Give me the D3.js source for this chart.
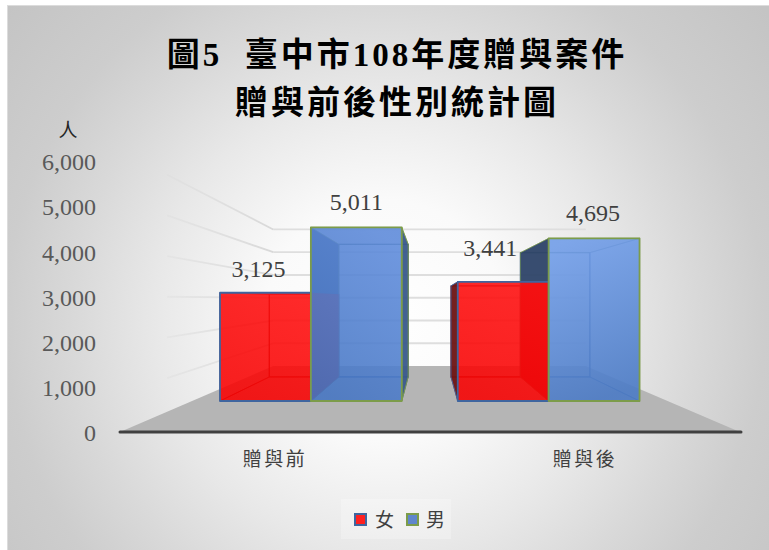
<!DOCTYPE html>
<html>
<head>
<meta charset="utf-8">
<script src="https://cdn.jsdelivr.net/npm/d3@7"></script>
<style>
html, body { margin: 0; padding: 0; background: #fff; }
svg { display: block; }
</style>
</head>
<body>
<div id="chart"></div>
<script>
const titleLines = ['圖5  臺中市108年度贈與案件', '贈與前後性別統計圖'];
const yUnit = '人';
const categories = ['贈與前', '贈與後'];
const seriesNames = ['女', '男'];
const femaleValues = [3125, 3441];
const maleValues = [5011, 4695];
const yTicks = [0, 1000, 2000, 3000, 4000, 5000, 6000];
// small manual nudges for the data labels, same order as the bars
const labelShift = [[-7, -16], [0, -17], [-13, -26], [-1, -17]];

const width = 769, height = 550;
const latinFont = '"Liberation Serif", "Noto Sans CJK TC", serif';
const cjkFont = '"Noto Sans CJK TC", "Liberation Serif", serif';

// vanishing point of the 3d view, all depth goes through it
const vp = {x: 429, y: 299};
const depth = {axis: 1, barFront: 0.767, barBack: 0.586, wall: 0.504};

const svg = d3.select('#chart').append('svg')
    .attr('width', width)
    .attr('height', height);

const defs = svg.append('defs');

const bgGrad = defs.append('radialGradient')
    .attr('id', 'bg')
    .attr('gradientUnits', 'userSpaceOnUse')
    .attr('cx', 0).attr('cy', 0).attr('r', 1.25)
    .attr('gradientTransform', 'translate(385, 320) scale(400, 400)');
bgGrad.append('stop').attr('offset', 0).attr('stop-color', '#ffffff');
bgGrad.append('stop').attr('offset', 0.24).attr('stop-color', '#fafafa');
bgGrad.append('stop').attr('offset', 0.46).attr('stop-color', '#e8e8e8');
bgGrad.append('stop').attr('offset', 0.62).attr('stop-color', '#d9d9d9');
bgGrad.append('stop').attr('offset', 0.76).attr('stop-color', '#cdcdcd');
bgGrad.append('stop').attr('offset', 0.98).attr('stop-color', '#c4c4c4');

const fade = defs.append('linearGradient')
    .attr('id', 'fade')
    .attr('gradientUnits', 'userSpaceOnUse')
    .attr('x1', 125).attr('x2', 273).attr('y1', 0).attr('y2', 0);
fade.append('stop').attr('offset', 0).attr('stop-color', '#d8d8d8').attr('stop-opacity', 0);
fade.append('stop').attr('offset', 1).attr('stop-color', '#d8d8d8').attr('stop-opacity', 1);

function addFrontGrad(id, top, bottom, opacity, x1, x2) {
    const g = defs.append('linearGradient')
        .attr('id', id)
        .attr('x1', x1).attr('y1', 0).attr('x2', x2).attr('y2', 1);
    g.append('stop').attr('offset', 0).attr('stop-color', top).attr('stop-opacity', opacity);
    g.append('stop').attr('offset', 1).attr('stop-color', bottom).attr('stop-opacity', opacity);
}
addFrontGrad('female', '#ff1010', '#f80404', 0.88, 0.7, 0.3);
addFrontGrad('male0', '#5f8cdc', '#4777c4', 0.88, 0.7, 0.3);
addFrontGrad('male1', '#74a0ea', '#4d7cc6', 0.9, 0.3, 0.5);

svg.append('rect')
    .attr('x', 7.5).attr('y', 5.5)
    .attr('width', width).attr('height', height)
    .attr('fill', 'url(#bg)')
    .attr('stroke', '#dcdcdc');

const y = d3.scaleLinear()
    .domain([0, 6000])
    .range([432, 161]);

const x0 = d3.scaleBand()
    .domain(d3.range(categories.length))
    .range([120, 740]);

const x1 = d3.scaleBand()
    .domain(d3.range(seriesNames.length))
    .range([0, x0.bandwidth()])
    .paddingOuter(0.308);

function project(xw, v, k) {
    return [vp.x + (xw - vp.x) * k, vp.y + (y(v) - vp.y) * k];
}

function poly(points) {
    return d3.line()(points) + 'Z';
}

const [xMin, xMax] = x0.range();

// floor
svg.append('path')
    .attr('d', poly([
        project(xMin, 0, depth.axis),
        project(xMin, 0, depth.wall),
        project(xMax, 0, depth.wall),
        project(xMax, 0, depth.axis)
    ]))
    .attr('fill', '#b5b5b5');

// gridlines on the back wall and left wall
const gridTicks = yTicks.filter(d => d > 0);

svg.append('g').selectAll('line')
    .data(gridTicks)
    .join('line')
    .attr('x1', d => project(xMin, d, depth.wall)[0])
    .attr('y1', d => project(xMin, d, depth.wall)[1])
    .attr('x2', d => project(xMax, d, depth.wall)[0])
    .attr('y2', d => project(xMax, d, depth.wall)[1])
    .attr('stroke', '#dedede')
    .attr('stroke-width', 1.8);

svg.append('g').selectAll('path')
    .data(gridTicks)
    .join('path')
    .attr('d', d => d3.line()([project(xMin + 18, d, 0.9), project(xMin, d, depth.wall)]))
    .attr('fill', 'none')
    .attr('stroke', 'url(#fade)')
    .attr('stroke-width', 1.8);

// bars
const bars = [];
categories.forEach((c, i) => {
    [femaleValues[i], maleValues[i]].forEach((value, s) => {
        const left = x0(i) + x1(s);
        bars.push({
            i, s, value,
            left,
            right: left + x1.bandwidth(),
            stroke: s === 0 ? '#3f659f' : '#7c9c4a',
            grad: s === 0 ? 'female' : 'male' + i
        });
    });
});

function face(b, side) {
    const k0 = depth.barFront, k1 = depth.barBack;
    const v = b.value;
    if (side === 'front') return [project(b.left, 0, k0), project(b.left, v, k0), project(b.right, v, k0), project(b.right, 0, k0)];
    if (side === 'back') return [project(b.left, 0, k1), project(b.left, v, k1), project(b.right, v, k1), project(b.right, 0, k1)];
    if (side === 'top') return [project(b.left, v, k0), project(b.left, v, k1), project(b.right, v, k1), project(b.right, v, k0)];
    if (side === 'bottom') return [project(b.left, 0, k0), project(b.left, 0, k1), project(b.right, 0, k1), project(b.right, 0, k0)];
    if (side === 'left') return [project(b.left, 0, k0), project(b.left, v, k0), project(b.left, v, k1), project(b.left, 0, k1)];
    return [project(b.right, 0, k0), project(b.right, v, k0), project(b.right, v, k1), project(b.right, 0, k1)];
}

const barG = svg.append('g');

function drawFace(b, side, fill, opacity, stroke, strokeOpacity, strokeWidth) {
    barG.append('path')
        .attr('d', poly(face(b, side)))
        .attr('fill', fill)
        .attr('fill-opacity', opacity)
        .attr('stroke', stroke)
        .attr('stroke-opacity', strokeOpacity)
        .attr('stroke-width', strokeWidth)
        .attr('stroke-linejoin', 'round');
}

const dark = s => s === 0 ? '#6e1414' : '#2e4568';

// painted back to front: inner faces first, the fronts go last
bars.forEach(b => drawFace(b, 'back', b.s === 0 ? '#ff0000' : '#4472c4', 0.1, b.s === 0 ? '#8c0808' : '#234a86', 0.9, 1.2));
bars.forEach(b => drawFace(b, 'bottom', b.s === 0 ? '#c80000' : '#2e4568', 0.12, b.s === 0 ? '#8c0808' : '#234a86', 0.6, 1));
bars.forEach(b => drawFace(b, 'top', b.s === 0 ? '#c80000' : '#2e4568', 0.12, b.stroke, 0.5, 1));

bars.filter(b => b.s === 1).forEach(b => drawFace(b, 'left', dark(1), 0.95, b.stroke, 0.6, 1));
bars.filter(b => b.s === 0).forEach(b => drawFace(b, 'right', '#c80000', 0.7, 'none', 0, 0));
// outer strips on the far side of each pair
drawFace(bars[0], 'left', '#c80000', 0.08, '#8c0808', 0.8, 1);
drawFace(bars[1], 'right', '#3a5a8c', 0.95, bars[1].stroke, 0.9, 1);
drawFace(bars[2], 'left', dark(0), 0.95, bars[2].stroke, 0.9, 1);
drawFace(bars[3], 'right', '#4472c4', 0.1, '#35598f', 0.6, 1);

bars.forEach(b => drawFace(b, 'front', `url(#${b.grad})`, 1, b.stroke, 1, 1.8));

// value labels
svg.append('g').selectAll('text')
    .data(bars)
    .join('text')
    .attr('x', (b, n) => (project(b.left, b.value, depth.barFront)[0] + project(b.right, b.value, depth.barFront)[0]) / 2 + labelShift[n][0])
    .attr('y', (b, n) => project(b.left, b.value, depth.barFront)[1] + labelShift[n][1])
    .attr('text-anchor', 'middle')
    .attr('font-family', latinFont)
    .attr('font-size', 24)
    .attr('fill', '#404040')
    .text(b => d3.format(',')(b.value));

// y axis labels
const yAxis = svg.append('g')
    .attr('transform', 'translate(96, 1)')
    .call(d3.axisLeft(y).tickValues(yTicks).tickFormat(d3.format(',')).tickSize(0).tickPadding(0));
yAxis.select('.domain').remove();
yAxis.selectAll('text')
    .attr('font-family', latinFont)
    .attr('font-size', 24)
    .attr('fill', '#595959');

svg.append('text')
    .attr('x', 68).attr('y', 137)
    .attr('text-anchor', 'middle')
    .attr('font-family', cjkFont)
    .attr('font-size', 19)
    .attr('fill', '#262626')
    .text(yUnit);

// base line and category labels
svg.append('line')
    .attr('x1', xMin).attr('x2', xMax + 1)
    .attr('y1', y(0)).attr('y2', y(0))
    .attr('stroke', '#404040')
    .attr('stroke-width', 3)
    .attr('stroke-linecap', 'round');

svg.append('g').selectAll('text')
    .data(categories)
    .join('text')
    .attr('x', (d, i) => x0(i) + x0.bandwidth() / 2)
    .attr('y', 466)
    .attr('text-anchor', 'middle')
    .attr('font-family', cjkFont)
    .attr('font-size', 19)
    .attr('letter-spacing', 2.5)
    .attr('fill', '#404040')
    .text(d => d);

// title
svg.append('g').selectAll('text')
    .data(titleLines)
    .join('text')
    .attr('x', 397)
    .attr('y', (d, i) => 66 + i * 48)
    .attr('text-anchor', 'middle')
    .attr('font-family', latinFont)
    .attr('font-size', 33)
    .attr('font-weight', 'bold')
    .attr('letter-spacing', 3)
    .attr('fill', '#000')
    .style('white-space', 'pre')
    .text(d => d);

// legend
const legend = svg.append('g');
legend.append('rect')
    .attr('x', 341).attr('y', 499)
    .attr('width', 110).attr('height', 40)
    .attr('fill', '#ffffff').attr('fill-opacity', 0.25);

const legendItems = legend.selectAll('g')
    .data(seriesNames)
    .join('g')
    .attr('transform', (d, i) => `translate(${355 + i * 52}, 514)`);

legendItems.append('rect')
    .attr('width', 11).attr('height', 11)
    .attr('fill', (d, i) => i === 0 ? '#ff2020' : '#5f86cc')
    .attr('stroke', (d, i) => i === 0 ? '#3f659f' : '#7c9c4a')
    .attr('stroke-width', 2);

legendItems.append('text')
    .attr('x', (d, i) => i === 0 ? 20 : 19)
    .attr('y', 13)
    .attr('font-family', cjkFont)
    .attr('font-size', 19)
    .attr('fill', '#404040')
    .text(d => d);
</script>
</body>
</html>
